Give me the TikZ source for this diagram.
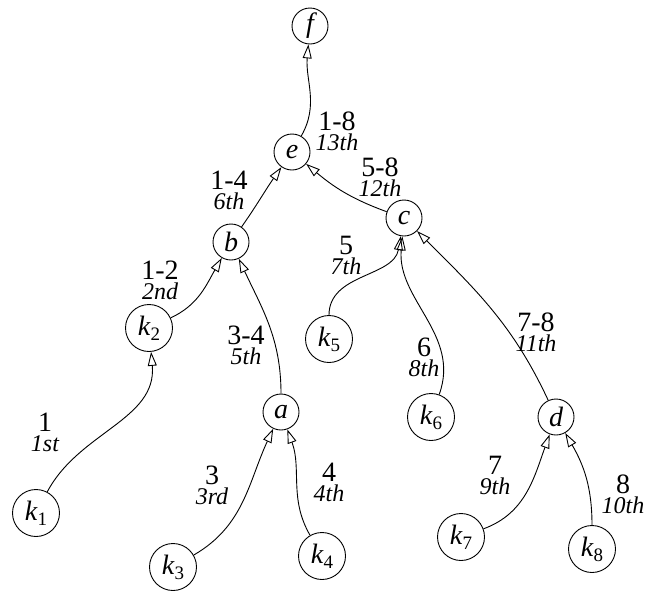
\documentclass[tikz,border=0pt]{standalone}
\usepackage{fontspec}
\setmainfont{Liberation Serif}
\usetikzlibrary{arrows.meta, positioning}

\newcommand{\kn}[1]{\textit{k}\raisebox{-5pt}{\fontsize{19}{19}\selectfont #1}}
\newcommand{\lab}[2]{#1\\{\itshape\fontsize{24}{20}\selectfont #2}}

\begin{document}
\begin{tikzpicture}[on grid,
    vertex/.style={circle, draw, line width=0.9pt, minimum size=36pt, inner sep=0pt,
                   font=\fontsize{28}{28}\selectfont\itshape},
    leaf/.style={vertex, minimum size=47pt, font=\fontsize{28}{28}\selectfont},
    lbl/.style={align=center, inner sep=0pt, font=\fontsize{28}{20}\selectfont},
    arc/.style={line width=0.9pt, -{Triangle[open, length=14pt, width=9pt]}}]
      \useasboundingbox (0,0) rectangle (645pt,-592pt);

      \node[vertex] (f)  at (310pt,-26pt)                  {f};
      \node[vertex] (e)  [below left=126pt and 18pt of f]  {e};
      \node[vertex] (b)  [below left=90pt and 61pt of e]   {b};
      \node[vertex] (c)  [below right=66pt and 112pt of e] {c};
      \node[leaf]   (k2) [below left=86pt and 82pt of b]   {\kn{2}};
      \node[vertex] (a)  [below right=170pt and 50pt of b] {a};
      \node[leaf]   (k1) [below left=185pt and 113pt of k2] {\kn{1}};
      \node[leaf]   (k3) [below left=155pt and 108pt of a] {\kn{3}};
      \node[leaf]   (k4) [below right=144pt and 41pt of a] {\kn{4}};
      \node[leaf]   (k5) [below left=121pt and 75pt of c]  {\kn{5}};
      \node[leaf]   (k6) [below right=199pt and 27pt of c] {\kn{6}};
      \node[vertex] (d)  [below right=199pt and 152pt of c] {d};
      \node[leaf]   (k7) [below left=120pt and 95pt of d]  {\kn{7}};
      \node[leaf]   (k8) [below right=132pt and 36pt of d] {\kn{8}};

      \node[lbl] (l18) at (337pt,-131pt) {\lab{1-8}{13th}};
      \node[lbl] (l14) at (229pt,-190pt) {\lab{1-4}{6th}};
      \node[lbl] (l58) at (380pt,-177pt) {\lab{5-8}{12th}};
      \node[lbl] (l12) at (160pt,-280pt) {\lab{1-2}{2nd}};
      \node[lbl] (l34) at (246pt,-345pt) {\lab{3-4}{5th}};
      \node[lbl] (l1)  at (45pt,-432pt)  {\lab{1}{1st}};
      \node[lbl] (l3)  at (212pt,-485pt) {\lab{3}{3rd}};
      \node[lbl] (l4)  at (329pt,-482pt) {\lab{4}{4th}};
      \node[lbl] (l5)  at (346pt,-255pt) {\lab{5}{7th}};
      \node[lbl] (l6)  at (424pt,-357pt) {\lab{6}{8th}};
      \node[lbl] (l78) at (536pt,-332pt) {\lab{7-8}{11th}};
      \node[lbl] (l7)  at (495pt,-475pt) {\lab{7}{9th}};
      \node[lbl] (l8)  at (623pt,-494pt) {\lab{8}{10th}};

      \path[arc]
        (k1) edge [out=62, in=-85]   (k2)
        (k2) edge [out=25, in=-120]  (b)
        (a)  edge [out=90, in=-65]   (b)
        (k3) edge [out=30, in=-115]  (a)
        (k4) edge [out=120, in=-70]  (a)
        (b)  edge [out=55, in=-125]  (e)
        (c)  edge [out=160, in=-40]  (e)
        (e)  edge [out=60, in=-95]   (f)
        (k5) edge [out=90, in=-100]  (c)
        (k6) edge [out=70, in=-95]   (c)
        (d)  edge [out=115, in=-45]  (c)
        (k7) edge [out=20, in=-110]  (d)
        (k8) edge [out=90, in=-60]   (d);
    \end{tikzpicture}
\end{document}
